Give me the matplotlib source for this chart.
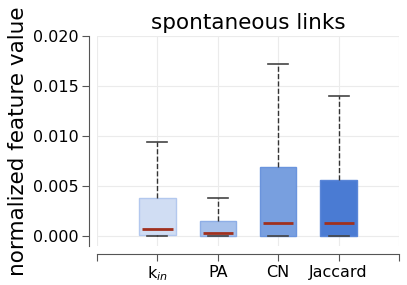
import matplotlib.pyplot as plt

# Box statistics
labels = ['k$_{in}$', 'PA', 'CN', 'Jaccard']
q1 = [0.0001, 0.0, 0.0, 0.0]
med = [0.00067, 0.00027, 0.00127, 0.00127]
q3 = [0.0038, 0.00153, 0.0069, 0.0056]
whislo = [0.0, 0.0, 0.0, 0.0]
whishi = [0.0094, 0.0038, 0.0172, 0.0140]
colors = ['#d0ddf3', '#a6c0ea', '#789fdf', '#4a7bd3']
edges = ['#b3c8ee', '#8eaee6', '#6a94dd', '#5a86d8']

stats = []
for i in range(len(labels)):
    stats.append({'med': med[i], 'q1': q1[i], 'q3': q3[i],
                  'whislo': whislo[i], 'whishi': whishi[i], 'fliers': []})

fig = plt.figure(figsize=(4.07, 2.85), dpi=100)
ax = fig.add_axes([97 / 407, 1 - 246 / 285, 302 / 407, 210 / 285])

# offset spines first (this resets the ticks)
for s in ['top', 'right']:
    ax.spines[s].set_visible(False)
ax.spines['left'].set_position(('outward', 6))
ax.spines['bottom'].set_position(('outward', 6))
ax.spines['left'].set_color('#555555')
ax.spines['bottom'].set_color('#555555')

bp = ax.bxp(stats, positions=[1, 2, 3, 4], widths=0.6, patch_artist=True,
            showfliers=False,
            medianprops=dict(color='#a0301e', linewidth=2),
            whiskerprops=dict(color='#333333', linestyle='--', linewidth=1),
            capprops=dict(color='#444444', linewidth=1.2),
            capwidths=0.33)
for patch, c, e in zip(bp['boxes'], colors, edges):
    patch.set_facecolor(c)
    patch.set_edgecolor(e)
    patch.set_linewidth(1)
for m in bp['medians']:
    x = m.get_xdata()
    xc = (x[0] + x[1]) / 2
    m.set_xdata([xc - 0.25, xc + 0.25])
    m.set_zorder(4)
for w in bp['whiskers']:
    w.set_zorder(5)

ax.set_xlim(0, 5)
ax.set_ylim(-0.001, 0.020)
ax.set_xticks([0, 1, 2, 3, 4, 5])
ax.set_xticklabels([''] + labels + [''])
ax.set_yticks([0.0, 0.005, 0.010, 0.015, 0.020])
ax.set_yticklabels(['0.000', '0.005', '0.010', '0.015', '0.020'])
ax.tick_params(colors='#555555', labelcolor='black', length=5, labelsize=11.5)
ax.tick_params(axis='x', pad=2.5)
ax.tick_params(axis='y', pad=2.5)

ax.grid(True, color='#ebebeb', linewidth=0.8)
ax.set_axisbelow(True)

ax.set_title('spontaneous links', fontsize=15.5, pad=5)
ax.set_ylabel('normalized feature value', fontsize=15.5, labelpad=3)

fig.savefig('out.png', dpi=100)
